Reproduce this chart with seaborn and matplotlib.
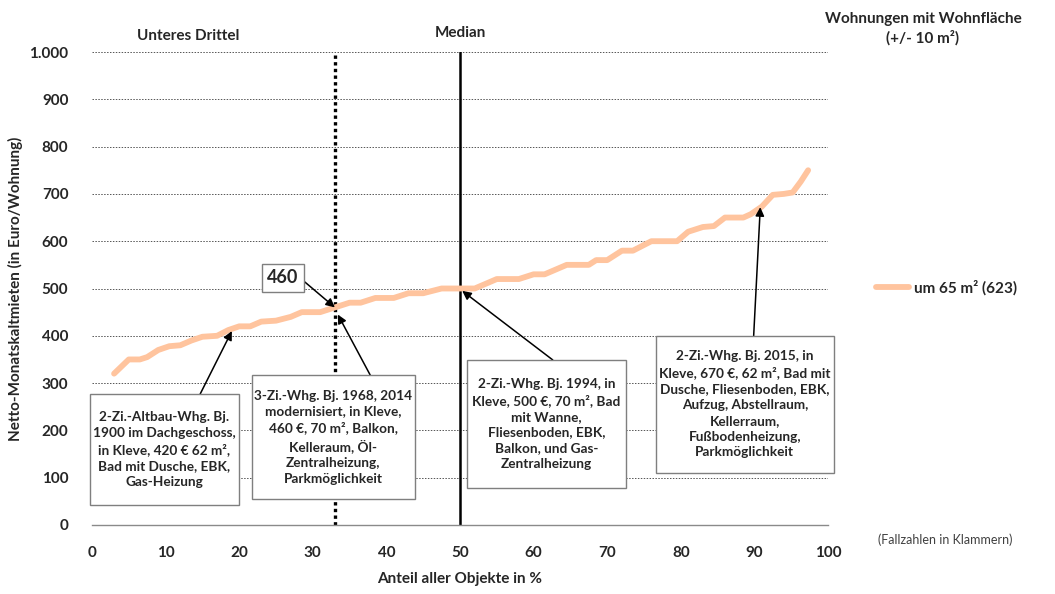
import matplotlib
matplotlib.use("Agg")
import matplotlib.pyplot as plt
import matplotlib.ticker as mticker
from matplotlib.lines import Line2D
from matplotlib.patches import Rectangle
import seaborn as sns

# Cumulative distribution of net rents (share of objects in % vs. rent in EUR)
share_pct = [3, 5, 6.5, 7.5, 9, 10.5, 12, 13.5, 15, 17, 18.5, 20, 21.5, 23, 25, 27,
             28.5, 31, 33, 35, 36.5, 38.5, 41, 43, 45, 47.5, 52, 53.5, 55, 58, 60,
             61.5, 63, 64.5, 67.5, 68.5, 70, 72, 73.5, 76, 79.5, 81, 83, 84.5, 86,
             88.5, 89.5, 91, 92.5, 94, 95.2, 96.3, 97.3]
rent_eur = [320, 350, 350, 355, 370, 378, 380, 390, 398, 400, 412, 420, 420, 430, 432,
            440, 450, 450, 460, 470, 470, 480, 480, 490, 490, 500, 500, 510, 520, 520,
            530, 530, 540, 550, 550, 560, 560, 580, 580, 600, 600, 620, 630, 632, 650,
            650, 657, 673, 698, 700, 703, 726, 750]

series_label = "um 65 m² (623)"
lower_third_x = 33
median_x = 50
x_ticks = list(range(0, 101, 10))
y_ticks = list(range(0, 1001, 100))

# Example flats: (text, arrow target x, arrow target y)
examples = [
    ("2-Zi.-Altbau-Whg. Bj.\n1900 im Dachgeschoss,\nin Kleve, 420 € 62 m²,\nBad mit Dusche, EBK,\nGas-Heizung", 19.0, 410),
    ("3-Zi.-Whg. Bj. 1968, 2014\nmodernisiert, in Kleve,\n460 €, 70 m², Balkon,\nKelleraum, Öl-\nZentralheizung,\nParkmöglichkeit", 33.4, 445),
    ("2-Zi.-Whg. Bj. 1994, in\nKleve, 500 €, 70 m², Bad\nmit Wanne,\nFliesenboden, EBK,\nBalkon, und Gas-\nZentralheizung", 50.3, 495),
    ("2-Zi.-Whg. Bj. 2015, in\nKleve, 670 €, 62 m², Bad mit\nDusche, Fliesenboden, EBK,\nAufzug, Abstellraum,\nKellerraum,\nFußbodenheizung,\nParkmöglichkeit", 90.8, 672),
]
# Callout boxes as (x0, x1, y0, y1) in axis units
box_extents = [(-0.3, 20.0, 42, 277), (21.7, 43.9, 55, 317),
               (50.9, 72.6, 78, 349), (76.6, 100.8, 110, 400)]
arrow_starts = [(14.7, 277), (37.8, 317), (62.6, 349), (89.9, 400)]

highlight_value = 460
highlight_box = (25.9, 523)
highlight_start = (28.9, 514)

sns.set_style("white")
plt.rcParams["font.family"] = ["Lato", "DejaVu Sans"]

line_color = "#FFC49E"

fig = plt.figure(figsize=(10.55, 5.94), dpi=100)
ax = fig.add_axes([92 / 1055, 1 - 525 / 594, (828 - 92) / 1055, (525 - 52) / 594])

sns.lineplot(x=share_pct, y=rent_eur, ax=ax, color=line_color, linewidth=4.2,
             solid_capstyle="round", solid_joinstyle="round", label=series_label,
             legend=False, zorder=3)

ax.set_xlim(0, 100)
ax.set_ylim(0, 1000)
ax.set_xticks(x_ticks)
ax.set_yticks(y_ticks)
ax.yaxis.set_major_formatter(mticker.FuncFormatter(lambda v, p: f"{int(v):,}".replace(",", ".")))

for yv in y_ticks[1:]:
    ax.axhline(yv, color="#555555", lw=0.7, ls=(0, (1.5, 1.5)), zorder=1)

for side in ["top", "right", "left"]:
    ax.spines[side].set_visible(False)
ax.spines["bottom"].set_color("#8a8a8a")
ax.spines["bottom"].set_linewidth(1.0)
ax.tick_params(axis="x", direction="out", length=5, color="#8a8a8a", pad=10,
               labelsize=11)
ax.tick_params(axis="y", length=0, pad=17, labelsize=11)
for lab in ax.get_xticklabels() + ax.get_yticklabels():
    lab.set_fontweight("bold")

ax.axvline(lower_third_x, color="black", lw=2.4, ls=(0, (1, 1)), zorder=2)
ax.axvline(median_x, color="black", lw=1.8, zorder=2)

ax.set_xlabel("Anteil aller Objekte in %", fontsize=11, fontweight="bold")
ax.set_ylabel("Netto-Monatskaltmieten (in Euro/Wohnung)", fontsize=11,
              fontweight="bold")
ax.xaxis.set_label_coords(0.5, -0.1)
ax.yaxis.set_label_coords(-0.094, 0.5)

arrow_style = dict(arrowstyle="-|>", color="black", lw=1.1, mutation_scale=13,
                   shrinkA=0, shrinkB=0)

for (txt, tx, ty), (x0, x1, y0, y1), (sx, sy) in zip(examples, box_extents, arrow_starts):
    ax.annotate("", xy=(tx, ty), xytext=(sx, sy), arrowprops=arrow_style, zorder=4)
    ax.add_patch(Rectangle((x0, y0), x1 - x0, y1 - y0, fc="white", ec="#7f7f7f",
                           lw=1.0, zorder=5, clip_on=False))
    ax.text((x0 + x1) / 2, (y0 + y1) / 2, txt, ha="center", va="center",
            fontsize=9.8, fontweight="bold", linespacing=1.38, zorder=6,
            clip_on=False)

ax.annotate("", xy=(lower_third_x, highlight_value), xytext=highlight_start,
            arrowprops=arrow_style, zorder=4)
ax.text(highlight_box[0], highlight_box[1], str(highlight_value), ha="center",
        va="center", fontsize=13, fontweight="bold",
        bbox=dict(boxstyle="square,pad=0.3", fc="white", ec="#7f7f7f", lw=1.0), zorder=5)

fig.text(188 / 1055, 1 - 36 / 594, "Unteres Drittel", ha="center", va="center",
         fontsize=11, fontweight="bold")
fig.text(460 / 1055, 1 - 33 / 594, "Median", ha="center", va="center",
         fontsize=11, fontweight="bold")
fig.text(923 / 1055, 1 - 29 / 594, "Wohnungen mit Wohnfläche\n(+/- 10 m²)", ha="center",
         va="center", fontsize=11, fontweight="bold", linespacing=1.35)
fig.text(945 / 1055, 1 - 540 / 594, "(Fallzahlen in Klammern)", ha="center",
         va="center", fontsize=9, color="#404040")

handle = Line2D([], [], color=line_color, lw=4.2, solid_capstyle="round")
fig.legend([handle], [series_label], loc="center left",
           bbox_to_anchor=(862 / 1055, 1 - 288 / 594), frameon=False,
           handlelength=2.2, handletextpad=0.3,
           prop={"weight": "bold", "size": 11})

fig.savefig("out.png", dpi=100)
